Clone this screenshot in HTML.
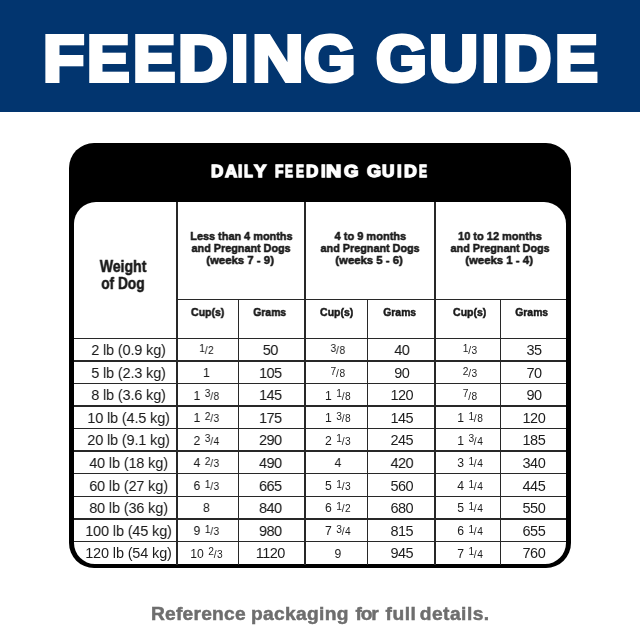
<!DOCTYPE html>
<html><head><meta charset="utf-8"><style>
*{margin:0;padding:0;box-sizing:border-box}
html,body{width:640px;height:640px;overflow:hidden;background:#fff}
body{position:relative;font-family:"Liberation Sans",sans-serif;color:#1a1a1a}
#wrap{position:absolute;left:0;top:0;width:640px;height:640px}
#gw{position:absolute;left:0;top:0;width:640px;height:640px;filter:grayscale(1)}
#band{position:absolute;left:0;top:0;width:640px;height:112px;background:#02356f}
#title{position:absolute;left:0;top:0;width:640px;height:111px;color:#fff;font-weight:bold;font-size:68px;line-height:1;white-space:nowrap}
#title span{position:absolute;top:26.8px;transform-origin:0 0;-webkit-text-stroke:4px #fff;font-size:64px}
#box{position:absolute;left:69px;top:143.4px;width:502px;height:424.6px;background:#000;border-radius:25px}
#inner{position:absolute;left:73.6px;top:201.5px;width:492.7px;height:362.7px;background:#fff;border-radius:22px 22px 21px 21px}
#dfg span{position:absolute;top:0;transform-origin:0 0}
#dfg{position:absolute;left:0;top:163.4px;white-space:nowrap;color:#fff;font-weight:bold;font-size:16.5px;line-height:1;-webkit-text-stroke:1.3px #fff}
.vl{position:absolute;width:1.45px;background:#282828}
.hl{position:absolute;height:1.45px;background:#282828}
.c{position:absolute;height:22.58px;line-height:22.58px;text-align:center;white-space:nowrap;color:#1c1c1c}
.wt,.gr{font-size:14.5px;letter-spacing:-0.15px}
.gr{letter-spacing:-0.55px}
.wt,.gr{padding-top:0.8px}
.cu{font-size:12.2px;padding-top:1.2px}
.sp{padding-left:1px}
.fr{font-size:10.2px;position:relative}
.nu{position:relative;top:-2.4px}
.sl{font-size:10.2px;margin:0 0.5px 0 -0.2px}
.tl{position:absolute;text-align:center;white-space:nowrap;font-weight:bold;line-height:1;color:#1a1a1a}
.tl span{display:inline-block}
.hd{font-size:11.8px;-webkit-text-stroke:0.5px #1a1a1a}
.wd{font-size:15.7px;-webkit-text-stroke:0.45px #1a1a1a}
#foot{position:absolute;left:0;top:603.6px;white-space:nowrap;color:#6e6e6e;font-weight:bold;font-size:19.2px;line-height:1;-webkit-text-stroke:0.5px #6e6e6e}
#foot span{position:absolute;top:0}
</style></head><body><div id="wrap">
<div id="band"></div>
<div id="title"><span style="left:42.63px;transform:scaleX(1.0608)">F</span><span style="left:86.91px;transform:scaleX(0.9962)">E</span><span style="left:132.71px;transform:scaleX(0.9925)">E</span><span style="left:177.76px;transform:scaleX(1.0705)">D</span><span style="left:230.70px;transform:scaleX(1.0000)">I</span><span style="left:251.57px;transform:scaleX(1.1167)">N</span><span style="left:304.26px;transform:scaleX(1.0362)">G</span><span style="left:376.18px;transform:scaleX(1.0234)">G</span><span style="left:428.87px;transform:scaleX(1.0643)">U</span><span style="left:481.50px;transform:scaleX(1.0000)">I</span><span style="left:502.51px;transform:scaleX(1.0455)">D</span><span style="left:554.89px;transform:scaleX(1.0050)">E</span></div>
<div id="gw">
<div id="box"></div>
<div id="inner"></div>
<div id="dfg"><span style="left:211.39px;transform:scaleX(1.0263)">D</span><span style="left:224.51px;transform:scaleX(1.0233)">A</span><span style="left:238.14px;transform:scaleX(0.9167)">I</span><span style="left:243.77px;transform:scaleX(0.8660)">L</span><span style="left:254.00px;transform:scaleX(1.1190)">Y</span><span style="left:274.79px;transform:scaleX(0.8229)">F</span><span style="left:285.14px;transform:scaleX(0.7143)">E</span><span style="left:295.84px;transform:scaleX(0.7143)">E</span><span style="left:306.49px;transform:scaleX(1.0263)">D</span><span style="left:320.51px;transform:scaleX(0.9722)">I</span><span style="left:326.36px;transform:scaleX(1.2818)">N</span><span style="left:343.90px;transform:scaleX(1.1280)">G</span><span style="left:366.50px;transform:scaleX(1.0960)">G</span><span style="left:382.49px;transform:scaleX(1.0354)">U</span><span style="left:397.00px;transform:scaleX(1.0000)">I</span><span style="left:403.56px;transform:scaleX(1.0702)">D</span><span style="left:418.94px;transform:scaleX(0.7143)">E</span></div>
<div class="vl" style="left:176.38px;top:201.50px;height:363.50px"></div>
<div class="vl" style="left:237.68px;top:299.75px;height:265.25px"></div>
<div class="vl" style="left:304.47px;top:201.50px;height:363.50px"></div>
<div class="vl" style="left:366.57px;top:299.75px;height:265.25px"></div>
<div class="vl" style="left:434.27px;top:201.50px;height:363.50px"></div>
<div class="vl" style="left:499.57px;top:299.75px;height:265.25px"></div>
<div class="hl" style="left:177.10px;top:299.02px;width:389.20px"></div>
<div class="hl" style="left:73.50px;top:337.52px;width:492.80px"></div>
<div class="hl" style="left:73.50px;top:360.10px;width:492.80px"></div>
<div class="hl" style="left:73.50px;top:382.68px;width:492.80px"></div>
<div class="hl" style="left:73.50px;top:405.26px;width:492.80px"></div>
<div class="hl" style="left:73.50px;top:427.84px;width:492.80px"></div>
<div class="hl" style="left:73.50px;top:450.42px;width:492.80px"></div>
<div class="hl" style="left:73.50px;top:473.00px;width:492.80px"></div>
<div class="hl" style="left:73.50px;top:495.58px;width:492.80px"></div>
<div class="hl" style="left:73.50px;top:518.16px;width:492.80px"></div>
<div class="hl" style="left:73.50px;top:540.75px;width:492.80px"></div>
<div class="c wt" style="left:76.70px;top:338.25px;width:103.60px">2 lb (0.9 kg)</div>
<div class="c cu" style="left:175.80px;top:338.25px;width:61.30px"><span class="fr"><span class="nu">1</span><span class="sl">/</span><span class="de">2</span></span></div>
<div class="c gr" style="left:236.90px;top:338.25px;width:66.80px">50</div>
<div class="c cu" style="left:306.80px;top:338.25px;width:62.10px"><span class="fr"><span class="nu">3</span><span class="sl">/</span><span class="de">8</span></span></div>
<div class="c gr" style="left:368.00px;top:338.25px;width:67.70px">40</div>
<div class="c cu" style="left:437.40px;top:338.25px;width:65.30px"><span class="fr"><span class="nu">1</span><span class="sl">/</span><span class="de">3</span></span></div>
<div class="c gr" style="left:500.90px;top:338.25px;width:66.00px">35</div>
<div class="c wt" style="left:76.70px;top:360.83px;width:103.60px">5 lb (2.3 kg)</div>
<div class="c cu" style="left:175.80px;top:360.83px;width:61.30px"><span class="w">1</span></div>
<div class="c gr" style="left:236.90px;top:360.83px;width:66.80px">105</div>
<div class="c cu" style="left:306.80px;top:360.83px;width:62.10px"><span class="fr"><span class="nu">7</span><span class="sl">/</span><span class="de">8</span></span></div>
<div class="c gr" style="left:368.00px;top:360.83px;width:67.70px">90</div>
<div class="c cu" style="left:437.40px;top:360.83px;width:65.30px"><span class="fr"><span class="nu">2</span><span class="sl">/</span><span class="de">3</span></span></div>
<div class="c gr" style="left:500.90px;top:360.83px;width:66.00px">70</div>
<div class="c wt" style="left:76.70px;top:383.41px;width:103.60px">8 lb (3.6 kg)</div>
<div class="c cu" style="left:175.80px;top:383.41px;width:61.30px"><span class="w">1</span><span class="sp"> </span><span class="fr"><span class="nu">3</span><span class="sl">/</span><span class="de">8</span></span></div>
<div class="c gr" style="left:236.90px;top:383.41px;width:66.80px">145</div>
<div class="c cu" style="left:306.80px;top:383.41px;width:62.10px"><span class="w">1</span><span class="sp"> </span><span class="fr"><span class="nu">1</span><span class="sl">/</span><span class="de">8</span></span></div>
<div class="c gr" style="left:368.00px;top:383.41px;width:67.70px">120</div>
<div class="c cu" style="left:437.40px;top:383.41px;width:65.30px"><span class="fr"><span class="nu">7</span><span class="sl">/</span><span class="de">8</span></span></div>
<div class="c gr" style="left:500.90px;top:383.41px;width:66.00px">90</div>
<div class="c wt" style="left:76.70px;top:405.99px;width:103.60px">10 lb (4.5 kg)</div>
<div class="c cu" style="left:175.80px;top:405.99px;width:61.30px"><span class="w">1</span><span class="sp"> </span><span class="fr"><span class="nu">2</span><span class="sl">/</span><span class="de">3</span></span></div>
<div class="c gr" style="left:236.90px;top:405.99px;width:66.80px">175</div>
<div class="c cu" style="left:306.80px;top:405.99px;width:62.10px"><span class="w">1</span><span class="sp"> </span><span class="fr"><span class="nu">3</span><span class="sl">/</span><span class="de">8</span></span></div>
<div class="c gr" style="left:368.00px;top:405.99px;width:67.70px">145</div>
<div class="c cu" style="left:437.40px;top:405.99px;width:65.30px"><span class="w">1</span><span class="sp"> </span><span class="fr"><span class="nu">1</span><span class="sl">/</span><span class="de">8</span></span></div>
<div class="c gr" style="left:500.90px;top:405.99px;width:66.00px">120</div>
<div class="c wt" style="left:76.70px;top:428.57px;width:103.60px">20 lb (9.1 kg)</div>
<div class="c cu" style="left:175.80px;top:428.57px;width:61.30px"><span class="w">2</span><span class="sp"> </span><span class="fr"><span class="nu">3</span><span class="sl">/</span><span class="de">4</span></span></div>
<div class="c gr" style="left:236.90px;top:428.57px;width:66.80px">290</div>
<div class="c cu" style="left:306.80px;top:428.57px;width:62.10px"><span class="w">2</span><span class="sp"> </span><span class="fr"><span class="nu">1</span><span class="sl">/</span><span class="de">3</span></span></div>
<div class="c gr" style="left:368.00px;top:428.57px;width:67.70px">245</div>
<div class="c cu" style="left:437.40px;top:428.57px;width:65.30px"><span class="w">1</span><span class="sp"> </span><span class="fr"><span class="nu">3</span><span class="sl">/</span><span class="de">4</span></span></div>
<div class="c gr" style="left:500.90px;top:428.57px;width:66.00px">185</div>
<div class="c wt" style="left:76.70px;top:451.15px;width:103.60px">40 lb (18 kg)</div>
<div class="c cu" style="left:175.80px;top:451.15px;width:61.30px"><span class="w">4</span><span class="sp"> </span><span class="fr"><span class="nu">2</span><span class="sl">/</span><span class="de">3</span></span></div>
<div class="c gr" style="left:236.90px;top:451.15px;width:66.80px">490</div>
<div class="c cu" style="left:306.80px;top:451.15px;width:62.10px"><span class="w">4</span></div>
<div class="c gr" style="left:368.00px;top:451.15px;width:67.70px">420</div>
<div class="c cu" style="left:437.40px;top:451.15px;width:65.30px"><span class="w">3</span><span class="sp"> </span><span class="fr"><span class="nu">1</span><span class="sl">/</span><span class="de">4</span></span></div>
<div class="c gr" style="left:500.90px;top:451.15px;width:66.00px">340</div>
<div class="c wt" style="left:76.70px;top:473.73px;width:103.60px">60 lb (27 kg)</div>
<div class="c cu" style="left:175.80px;top:473.73px;width:61.30px"><span class="w">6</span><span class="sp"> </span><span class="fr"><span class="nu">1</span><span class="sl">/</span><span class="de">3</span></span></div>
<div class="c gr" style="left:236.90px;top:473.73px;width:66.80px">665</div>
<div class="c cu" style="left:306.80px;top:473.73px;width:62.10px"><span class="w">5</span><span class="sp"> </span><span class="fr"><span class="nu">1</span><span class="sl">/</span><span class="de">3</span></span></div>
<div class="c gr" style="left:368.00px;top:473.73px;width:67.70px">560</div>
<div class="c cu" style="left:437.40px;top:473.73px;width:65.30px"><span class="w">4</span><span class="sp"> </span><span class="fr"><span class="nu">1</span><span class="sl">/</span><span class="de">4</span></span></div>
<div class="c gr" style="left:500.90px;top:473.73px;width:66.00px">445</div>
<div class="c wt" style="left:76.70px;top:496.31px;width:103.60px">80 lb (36 kg)</div>
<div class="c cu" style="left:175.80px;top:496.31px;width:61.30px"><span class="w">8</span></div>
<div class="c gr" style="left:236.90px;top:496.31px;width:66.80px">840</div>
<div class="c cu" style="left:306.80px;top:496.31px;width:62.10px"><span class="w">6</span><span class="sp"> </span><span class="fr"><span class="nu">1</span><span class="sl">/</span><span class="de">2</span></span></div>
<div class="c gr" style="left:368.00px;top:496.31px;width:67.70px">680</div>
<div class="c cu" style="left:437.40px;top:496.31px;width:65.30px"><span class="w">5</span><span class="sp"> </span><span class="fr"><span class="nu">1</span><span class="sl">/</span><span class="de">4</span></span></div>
<div class="c gr" style="left:500.90px;top:496.31px;width:66.00px">550</div>
<div class="c wt" style="left:76.70px;top:518.89px;width:103.60px">100 lb (45 kg)</div>
<div class="c cu" style="left:175.80px;top:518.89px;width:61.30px"><span class="w">9</span><span class="sp"> </span><span class="fr"><span class="nu">1</span><span class="sl">/</span><span class="de">3</span></span></div>
<div class="c gr" style="left:236.90px;top:518.89px;width:66.80px">980</div>
<div class="c cu" style="left:306.80px;top:518.89px;width:62.10px"><span class="w">7</span><span class="sp"> </span><span class="fr"><span class="nu">3</span><span class="sl">/</span><span class="de">4</span></span></div>
<div class="c gr" style="left:368.00px;top:518.89px;width:67.70px">815</div>
<div class="c cu" style="left:437.40px;top:518.89px;width:65.30px"><span class="w">6</span><span class="sp"> </span><span class="fr"><span class="nu">1</span><span class="sl">/</span><span class="de">4</span></span></div>
<div class="c gr" style="left:500.90px;top:518.89px;width:66.00px">655</div>
<div class="c wt" style="left:76.70px;top:541.47px;width:103.60px">120 lb (54 kg)</div>
<div class="c cu" style="left:175.80px;top:541.47px;width:61.30px"><span class="w">10</span><span class="sp"> </span><span class="fr"><span class="nu">2</span><span class="sl">/</span><span class="de">3</span></span></div>
<div class="c gr" style="left:236.90px;top:541.47px;width:66.80px">1120</div>
<div class="c cu" style="left:306.80px;top:541.47px;width:62.10px"><span class="w">9</span></div>
<div class="c gr" style="left:368.00px;top:541.47px;width:67.70px">945</div>
<div class="c cu" style="left:437.40px;top:541.47px;width:65.30px"><span class="w">7</span><span class="sp"> </span><span class="fr"><span class="nu">1</span><span class="sl">/</span><span class="de">4</span></span></div>
<div class="c gr" style="left:500.90px;top:541.47px;width:66.00px">760</div>
<div class="tl hd" style="left:177.10px;top:307.20px;width:61.30px"><span style="transform:scaleX(0.8900)">Cup(s)</span></div>
<div class="tl hd" style="left:236.40px;top:307.20px;width:66.80px"><span style="transform:scaleX(0.8800)">Grams</span></div>
<div class="tl hd" style="left:305.30px;top:307.20px;width:62.10px"><span style="transform:scaleX(0.8900)">Cup(s)</span></div>
<div class="tl hd" style="left:366.30px;top:307.20px;width:67.70px"><span style="transform:scaleX(0.8800)">Grams</span></div>
<div class="tl hd" style="left:437.30px;top:307.20px;width:65.30px"><span style="transform:scaleX(0.8900)">Cup(s)</span></div>
<div class="tl hd" style="left:499.00px;top:307.20px;width:66.00px"><span style="transform:scaleX(0.8800)">Grams</span></div>
<div class="tl hd" style="left:177.10px;top:231.40px;width:128.10px"><span style="transform:scaleX(0.9230)">Less than 4 months</span></div>
<div class="tl hd" style="left:177.10px;top:243.20px;width:128.10px"><span style="transform:scaleX(0.9160)">and Pregnant Dogs</span></div>
<div class="tl hd" style="left:176.10px;top:255.20px;width:128.10px"><span style="transform:scaleX(0.9660)">(weeks 7 - 9)</span></div>
<div class="tl hd" style="left:305.20px;top:231.40px;width:129.80px"><span style="transform:scaleX(0.9340)">4 to 9 months</span></div>
<div class="tl hd" style="left:305.20px;top:243.20px;width:129.80px"><span style="transform:scaleX(0.9160)">and Pregnant Dogs</span></div>
<div class="tl hd" style="left:304.20px;top:255.20px;width:129.80px"><span style="transform:scaleX(0.9640)">(weeks 5 - 6)</span></div>
<div class="tl hd" style="left:434.20px;top:231.40px;width:131.30px"><span style="transform:scaleX(0.9330)">10 to 12 months</span></div>
<div class="tl hd" style="left:434.20px;top:243.20px;width:131.30px"><span style="transform:scaleX(0.9160)">and Pregnant Dogs</span></div>
<div class="tl hd" style="left:433.20px;top:255.20px;width:131.30px"><span style="transform:scaleX(0.9660)">(weeks 1 - 4)</span></div>
<div class="tl wd" style="left:71.30px;top:258.70px;width:103.60px"><span style="transform:scaleX(0.8980)">Weight</span></div>
<div class="tl wd" style="left:71.30px;top:276.30px;width:103.60px"><span style="transform:scaleX(0.8730)">of Dog</span></div>
<div id="foot"><span style="left:151px;letter-spacing:0.22px">Reference</span><span style="left:251px;letter-spacing:0.33px">packaging</span><span style="left:355.5px;letter-spacing:-1.2px">for</span><span style="left:385.6px;letter-spacing:0.5px">full</span><span style="left:419.8px;letter-spacing:0.46px">details.</span></div>
</div>
</div></body></html>
